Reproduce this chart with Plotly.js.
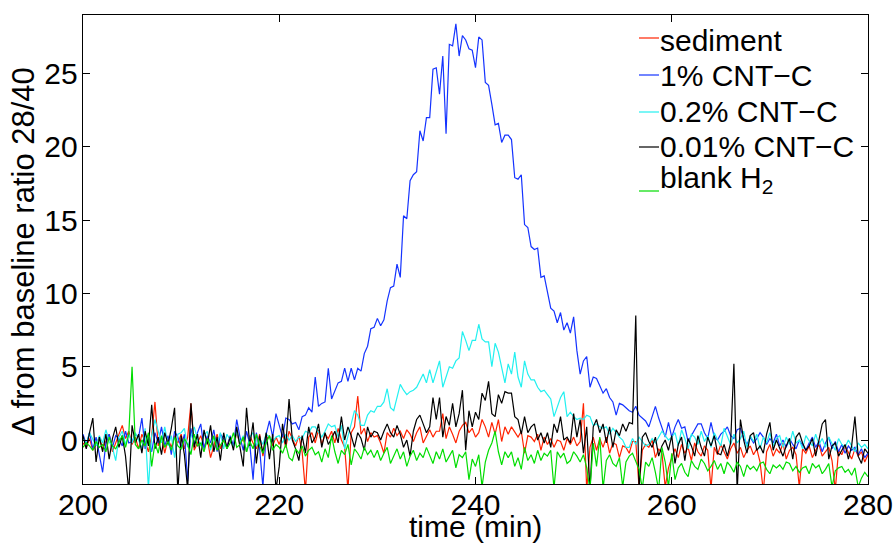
<!DOCTYPE html>
<html>
<head>
<meta charset="utf-8">
<script src="https://cdn.plot.ly/plotly-3.0.1.min.js"></script>
<style>html,body{margin:0;padding:0;background:#fff;}#chart{width:895px;height:544px;}</style>
</head>
<body>
<div id="chart"></div>
<script>
// sampling grid: one reading every 20 s (1/3 min) from 200 to 280 min
const START_MIN = 200;
const STEP_MIN = 1 / 3;
const N_POINTS = 241;
const time = [];
for (let i = 0; i < N_POINTS; i++) time.push(START_MIN + i * STEP_MIN);

const seriesNames = ['sediment', '1% CNT\u2212C', '0.2% CNT\u2212C', '0.01% CNT\u2212C', 'blank H<sub>2</sub>'];

const sediment = [
 -0.2,-0.5,0.1,-0.7,-0.3,0.2,-0.6,-0.1,0.4,-0.8,-0.2,0.3,1.0,0.1,0.6,
 -0.3,0.2,-0.6,0.4,-0.1,-0.8,0.3,2.6,-0.4,0.2,-0.9,0.1,-0.5,0.3,-0.2,
 0.4,-0.6,0.2,2.5,-0.7,-0.2,0.3,-0.5,0.1,-1.2,-0.3,0.4,-0.6,0.0,-0.4,
 0.2,-0.5,0.5,-0.3,0.1,-0.8,0.3,-0.2,-0.6,0.4,-1.1,0.0,0.3,-0.4,0.2,
 -0.3,0.4,-0.5,0.6,0.1,-0.4,0.3,-0.8,-3.5,0.2,0.5,-0.2,0.7,-0.3,0.4,
 0.1,0.6,-0.2,0.8,0.0,-0.5,-3.4,0.5,0.9,3.0,0.4,0.8,-0.1,0.5,0.2,
 0.3,-0.2,-0.9,0.5,0.2,0.8,0.3,0.6,0.1,0.7,0.4,-0.1,0.5,0.9,-0.2,
 0.3,0.7,0.2,0.6,0.6,1.8,0.1,0.9,0.4,-0.2,0.6,1.0,1.2,0.5,0.8,
 0.2,0.5,1.4,0.9,0.2,1.2,0.4,1.4,-0.1,0.9,0.4,0.9,0.5,0.2,0.6,
 -0.9,0.3,0.2,-0.1,0.4,-0.7,0.2,-0.3,0.1,-0.5,0.0,-0.1,-0.7,0.1,-0.3,
 0.2,-0.4,-0.1,2.5,-3.4,-0.5,0.2,-0.7,0.1,-0.5,0.2,-0.9,-0.2,-0.3,-1.2,
 -0.4,-0.5,-0.9,-0.1,-0.1,-3.2,-0.7,-0.3,-0.5,0.0,-1.2,-0.6,-0.9,-3.2,-1.9,
 -1.2,-0.6,-1.2,-0.3,-0.9,-0.5,-1.4,-0.2,-0.8,-1.1,-0.4,-0.7,-3.3,-0.5,-1.0,
 -0.3,-0.8,-1.3,-0.6,-0.2,-0.9,-0.5,-1.2,-0.7,-0.4,-1.0,-0.6,-1.5,-3.5,-0.8,
 -0.3,-1.1,-0.6,-0.9,-0.2,-1.3,-0.7,-0.5,-1.0,-3.2,-0.6,-0.9,-0.4,-1.2,-0.7,
 -0.3,-1.1,-0.8,-0.5,-1.4,-3.4,-0.7,-1.0,-0.4,-0.9,-1.3,-0.6,-1.1,-0.8,-1.5,
 -1.0
];

const cnt1 = [
 0.4,-0.3,0.5,-0.6,0.2,-0.9,-2.2,-0.2,0.4,-0.5,0.3,0.1,-0.4,0.6,-0.2,
 -0.1,0.4,0.2,1.5,-0.6,0.2,-0.8,0.5,-0.2,0.9,-0.4,0.3,-1.0,0.6,0.2,
 -0.5,0.4,-2.8,0.8,-0.3,0.5,1.1,-0.6,0.3,-0.2,0.7,-0.8,0.4,0.1,-0.5,
 0.3,-0.4,1.4,0.2,-0.7,0.6,-0.3,-2.7,0.5,-0.6,-3.2,0.4,1.3,0.2,1.8,
 0.9,0.2,1.5,1.4,1.1,1.2,0.7,1.6,1.7,2.2,1.9,4.3,2.3,2.5,2.6,
 4.9,2.8,3.4,3.9,4.0,4.9,4.0,4.9,4.1,4.9,4.7,5.9,6.4,7.6,7.7,
 8.3,7.8,8.2,9.5,10.4,10.5,12.0,11.1,15.3,15.1,17.7,18.1,18.3,21.1,20.4,
 22.0,22.0,25.3,25.4,23.6,26.2,20.9,27.0,26.9,28.4,26.2,27.6,27.3,26.7,26.6,
 25.4,27.5,27.3,24.4,24.2,22.9,21.5,21.6,20.3,20.8,20.8,20.5,17.9,17.8,18.1,
 14.7,14.5,13.2,13.0,13.1,11.1,11.2,10.2,9.0,8.8,8.0,8.7,7.5,8.0,7.3,
 8.4,6.1,4.5,5.4,5.7,3.6,4.3,4.2,3.7,3.2,3.5,2.9,2.6,1.7,2.5,
 2.4,2.2,2.0,1.9,2.3,1.7,1.5,1.3,0.9,1.6,2.3,1.5,0.9,0.2,1.2,
 0.2,0.9,1.4,0.8,0.9,-0.1,0.3,0.6,1.1,1.1,0.5,0.1,1.2,0.2,0.0,
 0.4,0.6,0.9,0.3,0.1,0.7,0.8,0.1,-0.3,0.2,-0.2,0.1,0.5,0.2,-0.3,
 0.1,-0.2,0.4,-0.4,0.0,-0.5,0.1,-0.3,-0.6,0.0,-0.4,-0.7,-0.2,0.2,-0.5,
 -0.1,-0.8,-0.2,0.2,-0.6,-0.1,-0.8,-0.3,-0.9,-0.4,-0.7,-0.5,-1.0,-0.6,-1.2,
 -0.9
];

const cnt02 = [
 0.2,-0.3,0.5,0.1,-0.4,0.3,-0.2,0.7,-0.1,-0.5,-1.4,0.2,0.6,-0.3,0.4,
 -0.2,0.5,0.0,-0.6,0.8,-3.3,0.3,1.4,0.6,-0.2,0.9,-0.4,0.3,-1.2,0.4,
 0.5,0.8,-0.5,0.2,0.9,0.1,-0.4,0.3,0.6,-0.7,0.2,-0.3,0.5,-0.6,0.4,
 0.0,-0.5,0.6,-0.2,0.3,-0.8,0.2,0.5,-0.4,0.1,-0.3,0.4,0.2,-0.1,0.2,
 0.3,-0.2,0.4,0.0,0.3,-0.1,0.2,0.1,0.6,0.5,0.9,0.9,0.5,0.2,0.6,
 1.1,0.9,1.0,0.2,1.0,-0.6,0.2,1.1,2.0,1.7,1.0,1.0,1.7,2.0,1.9,
 2.3,2.3,2.6,3.5,2.2,2.0,2.9,3.8,3.4,3.1,3.3,3.4,3.6,4.1,4.5,
 3.9,4.8,3.9,4.6,5.4,3.6,4.3,5.0,4.9,5.4,5.6,7.4,6.8,6.1,6.8,
 6.8,7.9,6.9,6.7,6.7,5.0,6.6,6.0,5.0,3.9,5.2,4.5,6.0,4.3,3.6,
 5.4,4.5,4.1,4.1,3.6,3.3,3.4,3.1,2.8,1.6,2.3,2.9,3.3,1.6,1.9,
 1.6,1.4,1.5,1.4,1.7,1.6,1.0,1.1,0.9,0.8,0.9,0.4,0.8,0.5,0.2,
 0.0,-0.5,-0.5,0.1,-0.3,0.2,-0.1,-0.4,-0.3,0.1,-0.2,0.2,0.6,0.3,0.0,
 0.2,0.5,-0.4,0.7,0.1,-0.6,0.4,0.2,-0.3,0.6,-0.1,0.3,-0.5,0.5,0.0,
 -0.4,0.8,0.2,-0.3,0.4,-0.2,0.1,0.6,-0.5,0.3,-0.1,0.4,-0.6,0.2,-0.2,
 0.5,-0.4,0.1,0.3,-0.5,0.2,-0.3,0.6,-0.2,0.0,-0.6,0.3,-0.1,-0.4,0.4,
 -0.3,0.1,-0.5,0.2,-0.2,-0.7,0.1,-0.3,-0.5,0.0,-0.4,-0.8,-0.2,-0.5,-0.3,
 -0.6
];

const cnt001 = [
 0.3,-0.6,0.5,1.5,-1.5,0.2,-0.8,0.4,-1.3,0.1,0.9,-0.5,0.3,-1.1,-3.5,
 1.0,-0.2,0.4,-0.9,0.6,-0.4,2.4,-0.6,0.2,-1.0,0.5,-0.3,0.8,2.2,-3.5,
 0.3,-1.0,-3.4,2.5,-0.5,0.4,-1.2,0.7,-0.3,1.0,-0.8,0.2,-1.4,0.5,-0.6,
 0.2,-0.7,0.9,-0.5,-1.8,2.2,-0.4,1.2,-1.6,0.3,-0.9,0.5,-1.3,0.4,-3.4,
 -1.8,1.1,-0.4,2.8,0.0,-0.6,-1.4,0.3,-0.9,0.9,-0.2,0.2,1.1,-0.5,0.5,
 -0.3,0.1,0.6,-0.2,1.6,0.0,0.9,0.3,-0.5,0.5,0.1,-0.7,0.9,0.2,0.6,
 0.5,0.0,0.6,1.1,0.5,0.2,1.0,0.4,-0.5,0.0,-1.1,0.6,1.4,1.7,1.1,
 0.5,0.9,2.9,1.4,2.9,0.2,1.6,1.0,2.5,0.9,1.8,3.4,-0.7,2.0,0.9,
 1.9,1.4,3.2,2.7,4.0,1.8,1.6,3.1,2.5,3.3,3.2,3.2,1.6,1.4,0.4,
 1.6,0.5,0.9,1.1,0.0,0.5,-0.2,0.5,-0.5,1.1,0.5,1.6,0.0,0.2,-0.2,
 1.8,0.2,1.4,-0.9,0.9,-3.4,0.9,1.4,0.5,1.1,-0.2,0.9,-0.5,0.7,0.3,
 1.1,0.6,1.2,1.1,8.5,-3.5,0.2,0.5,-0.1,-0.5,0.2,-1.1,-0.4,0.0,-0.7,
 0.3,-1.6,-0.3,0.2,-1.4,0.1,-0.4,-1.1,0.3,-0.5,-1.1,0.2,-0.4,0.3,-0.9,
 -1.0,-0.3,-1.1,-0.2,5.2,-3.5,1.4,0.0,-0.9,0.3,0.5,-0.7,-0.4,-0.9,0.4,
 1.2,-0.7,0.0,-0.5,-1.1,-0.4,0.1,-1.3,0.2,0.5,-0.2,-0.7,-0.4,0.1,-1.1,
 0.0,1.1,1.4,-1.3,-0.4,-0.2,-1.1,-0.7,-0.3,-1.3,-0.4,1.6,-1.1,-1.6,-0.6,
 -0.9
];

const blankH2 = [
 -0.5,-0.2,-0.4,-0.7,-0.1,-0.5,-0.3,-0.8,0.2,-0.4,-0.6,-0.1,0.3,-0.5,0.4,
 5.0,-0.3,-0.6,0.0,-0.4,0.5,-1.8,-0.2,-0.9,0.3,-0.5,-0.1,-0.7,0.2,-0.4,
 -0.6,0.1,-0.3,-1.0,0.4,-0.4,-0.2,-0.8,0.1,-0.5,0.3,-0.7,-0.3,0.0,-0.6,
 -0.2,0.5,-0.5,-0.3,0.2,-0.8,-0.1,-0.6,0.4,-0.4,-0.9,-0.2,0.3,-0.7,-0.3,
 -0.5,-0.9,-0.3,-1.2,-1.4,-0.6,-0.9,-0.4,-1.1,-0.7,-0.5,-1.0,-0.8,-1.5,-0.6,
 -1.2,0.3,-0.8,-1.6,-0.7,-1.0,-0.3,-1.7,-0.6,-0.9,-1.3,-0.5,-1.0,-0.7,-1.2,
 -0.7,-1.4,-0.9,-0.5,-1.6,-1.1,-0.6,-1.3,-0.8,-1.8,-1.1,-0.7,-1.4,-0.9,-1.2,
 -0.5,-1.0,-1.6,-0.8,-1.3,-0.6,-1.5,-1.1,-0.7,-1.9,-1.0,-1.2,-0.8,-2.7,-1.3,
 -1.8,-1.0,-3.2,-1.5,-0.7,-0.2,0.6,-0.8,-1.7,-0.8,-1.2,-0.8,-1.8,-1.2,-2.0,
 -0.5,-1.4,-1.0,-1.6,-0.7,-1.4,-0.9,-1.1,-0.7,-3.3,-0.8,-1.2,-0.9,-1.6,-1.4,
 -0.8,-1.1,-1.5,-1.0,-1.9,-3.4,-0.2,-1.8,0.2,-3.3,-1.4,-1.0,-1.6,-1.8,-1.2,
 -3.2,-1.5,-1.1,-0.9,-1.4,-2.0,-3.3,-1.5,-1.8,-1.2,-2.2,-3.4,-0.5,-1.5,-3.2,
 -0.9,-2.7,-1.9,-1.6,-2.2,-2.5,-1.4,-1.8,-2.0,-1.3,-1.6,-2.1,-1.8,-1.4,-2.0,
 -1.6,-2.3,-1.5,-1.8,-2.2,-1.5,-1.8,-2.5,-1.7,-2.0,-1.8,-2.1,-1.6,-1.5,-2.0,
 -2.3,-1.7,-1.9,-1.7,-2.0,-1.5,-1.6,-2.1,-1.8,-2.2,-1.9,-1.8,-2.3,-1.6,-1.9,
 -1.7,-2.3,-2.0,-1.6,-3.2,-2.1,-1.9,-1.8,-2.2,-2.0,-2.4,-1.9,-3.2,-2.6,-2.2,
 -2.5
];

const xTicks = [200, 220, 240, 260, 280];
const yTicks = [0, 5, 10, 15, 20, 25];
const xTitle = 'time (min)';
const yTitle = '\u0394 from baseline ratio 28/40';

const seriesValues = [sediment, cnt1, cnt02, cnt001, blankH2];
const seriesColors = ['#ff2200', '#1433ff', '#22f0f0', '#000000', '#00dd00'];

const FONT = 'Liberation Sans, Arial, Helvetica, sans-serif';

// plot-area geometry in pixels (for text placement)
const W = 895, H = 544;
const M = { l: 83, r: 27, t: 15, b: 60 };
const plotW = W - M.l - M.r, plotH = H - M.t - M.b;
const px2paperX = (px) => (px - M.l) / plotW;
const px2paperY = (py) => (H - M.b - py) / plotH;

const traces = seriesValues.map((vals, k) => ({
  x: time,
  y: vals,
  type: 'scatter',
  mode: 'lines',
  name: seriesNames[k],
  showlegend: false,
  line: { color: seriesColors[k], width: 1.2 }
}));

// MATLAB-style legend: short line sample directly followed by the label
const legendTextY = [40, 76, 111, 146, 179];
const legendLineY = [38, 75, 112, 147, 191];
const legendAnnotations = seriesNames.map((name, k) => ({
  xref: 'paper', yref: 'paper',
  x: px2paperX(659), y: px2paperY(legendTextY[k]),
  xanchor: 'left', yanchor: 'middle',
  text: name, showarrow: false, borderpad: 0,
  font: { family: FONT, size: 30, color: '#000' }
}));
const legendShapes = seriesNames.map((name, k) => ({
  type: 'line', xref: 'paper', yref: 'paper',
  x0: px2paperX(639), x1: px2paperX(659),
  y0: px2paperY(legendLineY[k]), y1: px2paperY(legendLineY[k]),
  line: { color: seriesColors[k], width: 1.2 }
}));

const titleAnnotations = [
  {
    xref: 'paper', yref: 'paper',
    x: px2paperX(24), y: px2paperY(252),
    xanchor: 'center', yanchor: 'middle',
    textangle: -90, text: yTitle, showarrow: false, borderpad: 0,
    font: { family: FONT, size: 31, color: '#000' }
  },
  {
    xref: 'paper', yref: 'paper',
    x: 0.5, y: px2paperY(526),
    xanchor: 'center', yanchor: 'middle',
    text: xTitle, showarrow: false, borderpad: 0,
    font: { family: FONT, size: 30, color: '#000' }
  }
];

const layout = {
  width: W,
  height: H,
  margin: M,
  paper_bgcolor: '#ffffff',
  plot_bgcolor: '#ffffff',
  font: { family: FONT, size: 30, color: '#000' },
  showlegend: false,
  annotations: legendAnnotations.concat(titleAnnotations),
  shapes: legendShapes,
  xaxis: {
    range: [200, 280],
    tickmode: 'array',
    tickvals: xTicks,
    ticktext: xTicks.map(String),
    ticks: 'inside',
    ticklen: 7,
    tickwidth: 1,
    tickcolor: '#000',
    ticklabelstandoff: -6,
    showline: true,
    linecolor: '#000',
    linewidth: 1.3,
    mirror: 'ticks',
    showgrid: false,
    zeroline: false,
    automargin: false,
    tickfont: { family: FONT, size: 30 }
  },
  yaxis: {
    range: [-3, 29],
    tickmode: 'array',
    tickvals: yTicks,
    ticktext: yTicks.map(String),
    ticks: 'inside',
    ticklen: 7,
    tickwidth: 1,
    tickcolor: '#000',
    ticklabelstandoff: -2,
    showline: true,
    linecolor: '#000',
    linewidth: 1.3,
    mirror: 'ticks',
    showgrid: false,
    zeroline: false,
    automargin: false,
    tickfont: { family: FONT, size: 30 }
  }
};

Plotly.newPlot('chart', traces, layout, { displayModeBar: false, staticPlot: true });
</script>
</body>
</html>
